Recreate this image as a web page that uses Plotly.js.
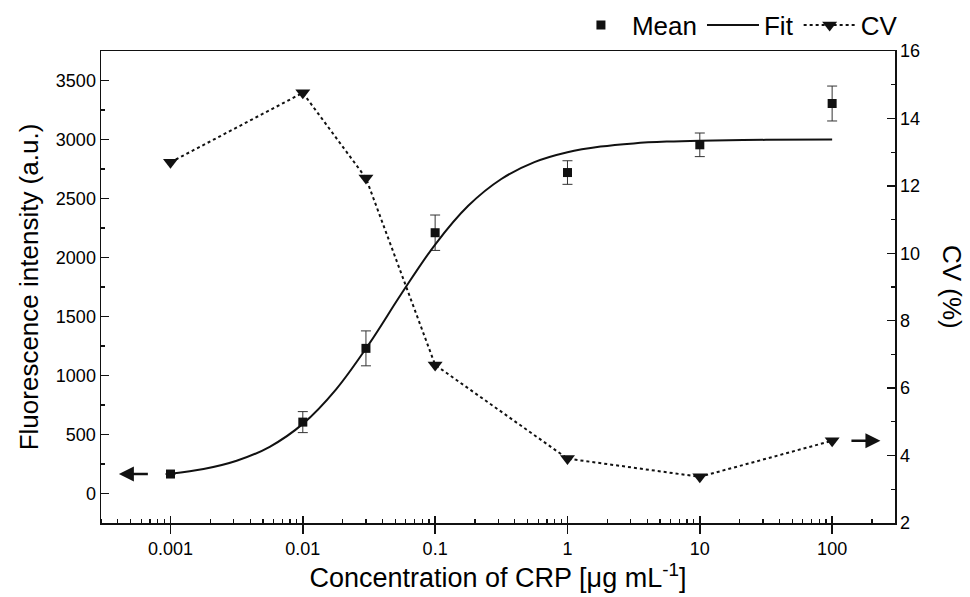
<!DOCTYPE html>
<html>
<head>
<meta charset="utf-8">
<script src="https://cdn.plot.ly/plotly-3.0.1.min.js"></script>
<style>html,body{margin:0;padding:0;background:#fff;}#chart{width:970px;height:597px;}</style>
</head>
<body>
<div id="chart"></div>
<script>
// Data
const concentrations = [0.001, 0.01, 0.03, 0.1, 1, 10, 100];
const meanIntensity = [165, 605, 1230, 2210, 2720, 2955, 3305];
const meanError = [0, 89, 148, 150, 100, 100, 148];
const cvPercent = [12.70, 14.76, 12.23, 6.69, 3.91, 3.37, 4.44];

const fitConcentration = [0.001, 0.001778, 0.003162, 0.005623, 0.01, 0.01778, 0.03162, 0.05623,
  0.1, 0.1778, 0.3162, 0.5623, 1, 1.778, 3.162, 5.623, 10, 31.62, 100];
const fitIntensity = [168, 207, 277, 396, 590, 881, 1266, 1701,
  2110, 2438, 2665, 2808, 2892, 2940, 2967, 2982, 2990, 2997, 2999];

const xTickVals = [0.001, 0.01, 0.1, 1, 10, 100];
const xTickText = ['0.001', '0.01', '0.1', '1', '10', '100'];

const FONT = 'Liberation Sans, Arial, Helvetica, sans-serif';
const INK = '#111';

// minor tick positions (2..9 within each decade)
const minorVals = [];
for (let e = -4; e <= 2; e++) {
  for (let m = 2; m <= 9; m++) minorVals.push(m * Math.pow(10, e));
}

const traces = [
  {
    name: 'Mean', x: concentrations, y: meanIntensity, type: 'scatter', mode: 'markers',
    marker: {symbol: 'square', size: 9, color: INK},
    error_y: {type: 'data', array: meanError, visible: true, color: '#333', thickness: 1, width: 5},
    xaxis: 'x', yaxis: 'y'
  },
  {
    name: 'Fit', x: fitConcentration, y: fitIntensity, type: 'scatter', mode: 'lines',
    line: {color: INK, width: 2, shape: 'spline'},
    xaxis: 'x', yaxis: 'y'
  },
  {
    name: 'CV', x: concentrations, y: cvPercent, type: 'scatter', mode: 'lines+markers',
    line: {color: INK, width: 2, dash: 'dot'},
    marker: {symbol: 'triangle-down', size: 13, color: INK},
    xaxis: 'x', yaxis: 'y2'
  },
  {
    // invisible helper trace to carry the inward major x ticks
    x: [0.001], y: [0], type: 'scatter', mode: 'markers', marker: {opacity: 0},
    showlegend: false, hoverinfo: 'skip', xaxis: 'x2', yaxis: 'y'
  }
];

const xRange = [-3.525, 2.475];

const layout = {
  width: 970, height: 597,
  margin: {l: 101, r: 75, t: 51, b: 74, autoexpand: false},
  paper_bgcolor: '#fff', plot_bgcolor: '#fff',
  font: {family: FONT, color: '#000', size: 18},
  showlegend: true,
  legend: {
    orientation: 'h', x: 1.01, xanchor: 'right', y: 1.005, yanchor: 'bottom',
    font: {family: FONT, size: 26, color: '#000'},
    bgcolor: 'rgba(0,0,0,0)', itemwidth: 52, tracegroupgap: 0
  },
  xaxis: {
    type: 'log', range: xRange,
    tickmode: 'array', tickvals: xTickVals, ticktext: xTickText,
    ticks: 'outside', ticklen: 9, tickwidth: 1.5, tickcolor: INK,
    minor: {tickmode: 'array', tickvals: minorVals, ticks: 'inside', ticklen: 4, tickwidth: 1.2, tickcolor: INK, showgrid: false},
    showline: true, linewidth: 1.5, linecolor: INK, mirror: true,
    showgrid: false, zeroline: false,
    tickfont: {family: FONT, size: 18, color: '#000'},
    title: {text: 'Concentration of CRP [μg mL<sup>-1</sup>]', font: {family: FONT, size: 27, color: '#000'}, standoff: 8}
  },
  xaxis2: {
    type: 'log', range: xRange, overlaying: 'x', anchor: 'y',
    tickmode: 'array', tickvals: xTickVals, ticks: 'inside', ticklen: 7, tickwidth: 1.5, tickcolor: INK,
    showticklabels: false, showline: false, showgrid: false, zeroline: false
  },
  yaxis: {
    range: [-250, 3750], dtick: 500, tick0: 0,
    ticks: 'inside', ticklen: 8, tickwidth: 1.5, tickcolor: INK,
    minor: {dtick: 250, ticks: 'inside', ticklen: 4, tickwidth: 1.2, tickcolor: INK, showgrid: false},
    showline: true, linewidth: 1.5, linecolor: INK,
    showgrid: false, zeroline: false,
    tickfont: {family: FONT, size: 18, color: '#000'},
    title: {text: 'Fluorescence intensity (a.u.)', font: {family: FONT, size: 26, color: '#000'}, standoff: 10}
  },
  yaxis2: {
    overlaying: 'y', side: 'right', anchor: 'x',
    range: [2, 16], dtick: 2, tick0: 0,
    ticks: 'inside', ticklen: 8, tickwidth: 1.5, tickcolor: INK,
    minor: {dtick: 1, ticks: 'inside', ticklen: 4, tickwidth: 1.2, tickcolor: INK, showgrid: false},
    showline: true, linewidth: 1.5, linecolor: INK,
    showgrid: false, zeroline: false,
    tickfont: {family: FONT, size: 18, color: '#000'}
  },
  annotations: [
    {
      text: 'CV (%)', xref: 'paper', yref: 'paper', x: 1.0, xshift: 57, y: 0.5,
      xanchor: 'center', yanchor: 'middle', textangle: 90, showarrow: false,
      font: {family: FONT, size: 26, color: '#000'}
    },
    {
      text: ' ', xref: 'x', yref: 'y', x: -3.39, y: 165,
      showarrow: true, ax: 33, ay: 0, arrowhead: 2, arrowsize: 1.2, arrowwidth: 2.5, arrowcolor: INK
    },
    {
      text: ' ', xref: 'x', yref: 'y2', x: 2.365, y: 4.44,
      showarrow: true, ax: -33, ay: 0, arrowhead: 2, arrowsize: 1.2, arrowwidth: 2.5, arrowcolor: INK
    }
  ]
};

Plotly.newPlot('chart', traces, layout, {displayModeBar: false, staticPlot: true});
</script>
</body>
</html>
